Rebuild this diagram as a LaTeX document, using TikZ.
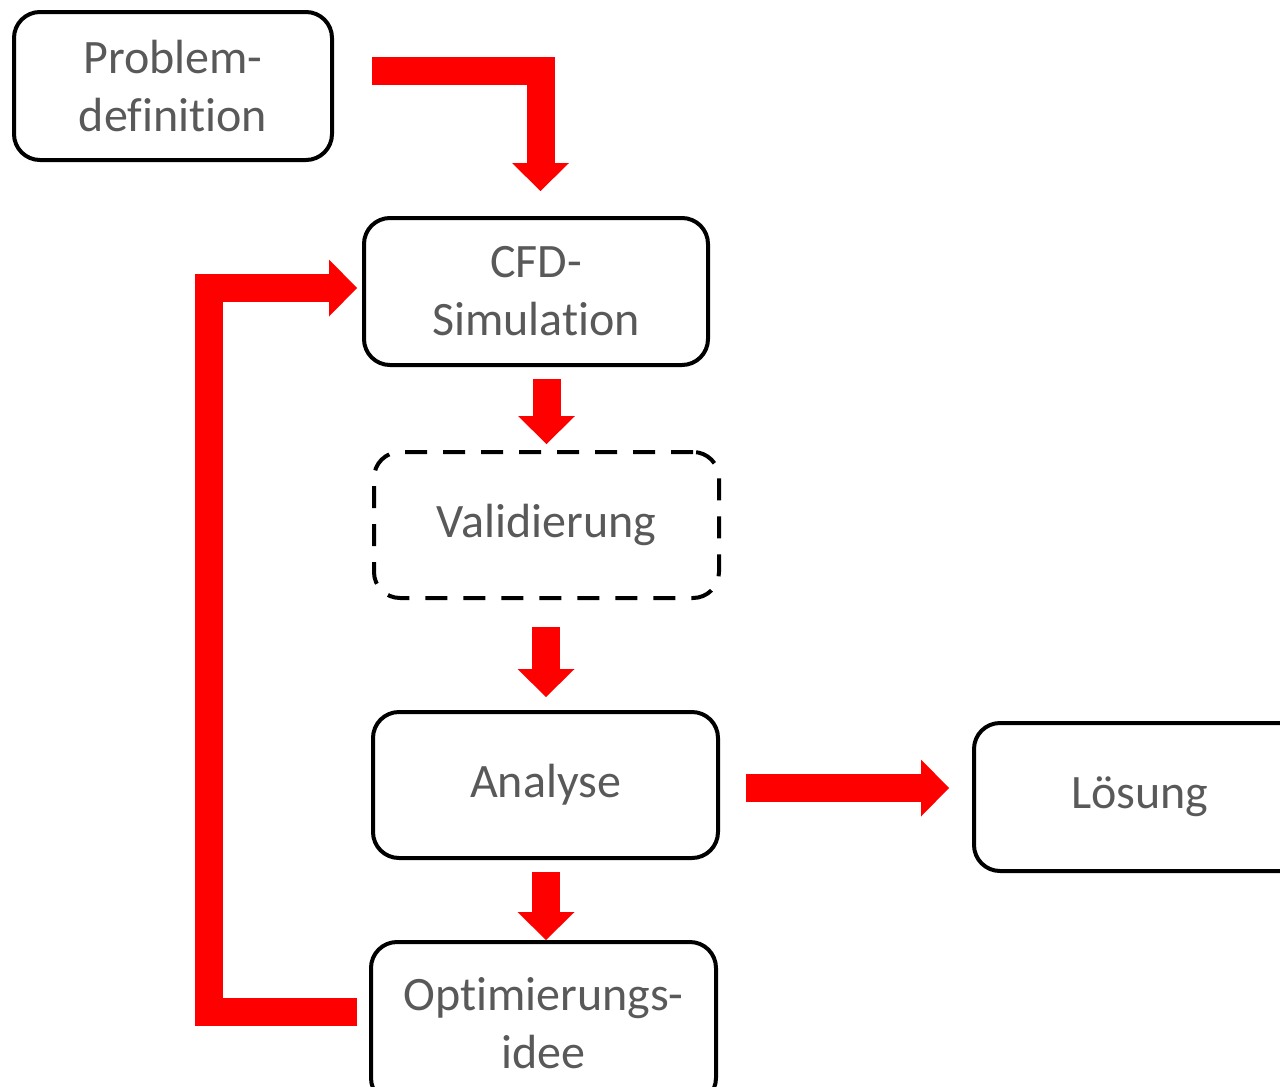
\documentclass[tikz,border=0pt]{standalone}
\usepackage{fontspec}
\setmainfont[Ligatures=NoCommon]{Carlito}
\usepackage{tikz}
\usetikzlibrary{positioning,arrows.meta}
\definecolor{txtgray}{HTML}{595959}
\definecolor{arrred}{HTML}{FF0000}

\begin{document}
\begin{tikzpicture}[x=0.5pt,y=-0.5pt,
	box/.style={draw=black,line width=2pt,rounded corners=13pt,align=center,inner sep=0pt,
		text=txtgray,font=\fontsize{24}{29}\selectfont,minimum width=172.5pt,minimum height=73pt},
	redarrow/.style={draw=arrred,line width=14pt,-{Triangle[width=28.5pt,length=14pt,line width=0pt]}}]

		\useasboundingbox (0,0) rectangle (1280,1087);

		%boxes
		\node[box,minimum width=159pt,minimum height=74pt] (prob) at (173,86) {Problem-\\definition};
		\node[box,minimum width=172pt,minimum height=73.5pt] (cfd) at (536,291.5) {CFD-\\Simulation};
		\node[box,dash pattern=on 11pt off 8pt] (valid) at (546.5,525) {Validierung};
		\node[box] (ana) at (545.5,785) {Analyse};
		\node[box,minimum height=81pt] (opt) at (543.5,1023) {Optimierungs-\\idee};
		\node[box,minimum width=166pt,minimum height=74pt] (loes) at (1140,797) {L\"osung};

		%arrow ends
		\coordinate (p1) at (372,71);
		\coordinate (p2) at (540.5,191);
		\coordinate (c1) at (546.5,379);
		\coordinate (c2) at (546.5,444);
		\coordinate (v1) at (546,627);
		\coordinate (v2) at (546,697);
		\coordinate (a1) at (546,872);
		\coordinate (a2) at (546,940);
		\coordinate (l1) at (746,788);
		\coordinate (l2) at (949,788);
		\coordinate (o1) at (357,1012);
		\coordinate (o2) at (357,288);
		\coordinate (o3) at (209,288);

		%arrows
		\draw[redarrow] (p1) -| (p2);
		\draw[redarrow] (c1) -- (c2);
		\draw[redarrow] (v1) -- (v2);
		\draw[redarrow] (a1) -- (a2);
		\draw[redarrow] (l1) -- (l2);
		\draw[redarrow] (o1) -| (o3) -- (o2);

		\end{tikzpicture}
\end{document}
